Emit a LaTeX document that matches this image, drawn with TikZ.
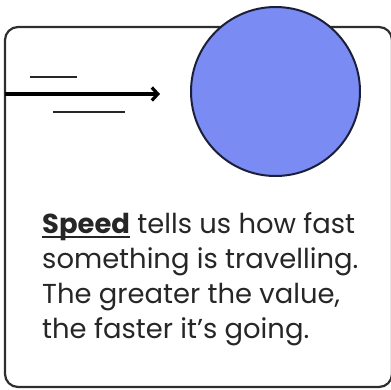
\documentclass[tikz,border=0pt]{standalone}
\usepackage{fontspec}
\setmainfont{Poppins}
\usepackage{tikz}
\usetikzlibrary{arrows.meta, positioning, calc}
\definecolor{cardline}{HTML}{2E2E2E}
\definecolor{ballblue}{HTML}{7A8BF4}
\definecolor{ballline}{HTML}{1C1F3A}
\definecolor{textgray}{HTML}{262626}
\newcommand{\keyword}[1]{\setbox0\hbox{\textbf{#1}}\rlap{\rule[-5pt]{\wd0}{1.6pt}}\box0\relax}

\begin{document}
\begin{tikzpicture}[
    x=1pt, y=-1pt,
    card/.style={draw=cardline, line width=2.2pt, rounded corners=13pt},
    ball/.style={circle, draw=ballline, fill=ballblue, line width=2pt, minimum size=169pt, inner sep=0pt},
    motion/.style={-{Straight Barb[length=6pt, width=13pt, line width=3.2pt]}, line width=3.4pt, black},
    streak/.style={draw=black!85, line width=2pt},
    caption/.style={align=left, anchor=base west, inner sep=0pt, text=textgray, font=\fontsize{27.4}{35}\selectfont}
]
\useasboundingbox (0,0) rectangle (391,389);

% card and ball
\draw[card] (5,27) rectangle (392,387);
\node[ball] (ball) at (275.5,91.5) {};

% motion lines
\coordinate (start) at (5,94);
\coordinate (tip) at (160,94);
\draw[motion] (start) -- (tip);
\coordinate (s1a) at (30,77);
\coordinate (s1b) at (77,77);
\coordinate (s2a) at (53,112);
\coordinate (s2b) at (125,112);
\draw[streak] (s1a) -- (s1b);
\draw[streak] (s2a) -- (s2b);

% text (base = last line)
\node[caption] (text) at (42,338) {\keyword{Speed} tells us how fast\\something is travelling.\\The greater the value,\\the faster it’s going.};
\end{tikzpicture}
\end{document}
